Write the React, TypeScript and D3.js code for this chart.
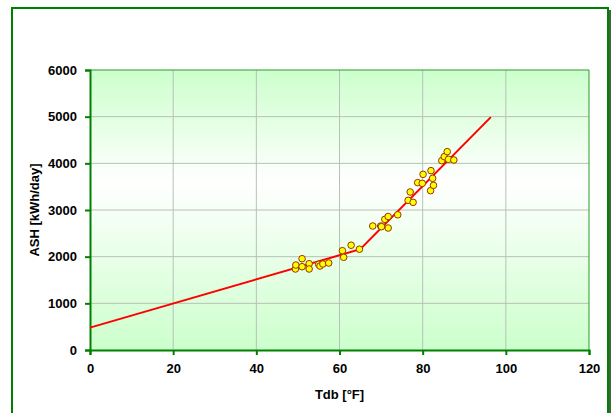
import { useEffect, useRef } from 'react';
import * as d3 from 'd3';

const xTicks = [0, 20, 40, 60, 80, 100, 120];
const yTicks = [0, 1000, 2000, 3000, 4000, 5000, 6000];

// measured points: Tdb [°F] vs ASH [kWh/day]
const tdb = [
  49.4, 49.5, 51.0, 51.0, 52.7, 52.7, 55.0, 55.3, 56.0, 57.4,
  60.7, 61.0, 62.8, 64.8, 68.0, 69.9, 70.1, 70.9, 71.7, 71.7,
  74.0, 76.5, 77.0, 77.7, 78.8, 79.9, 80.1, 81.9, 82.0, 82.4,
  82.6, 84.6, 85.2, 85.9, 86.2, 87.5,
];
const ash = [
  1736, 1821, 1956, 1785, 1849, 1736, 1836, 1800, 1843, 1864,
  2128, 1986, 2245, 2160, 2657, 2657, 2643, 2800, 2860, 2614,
  2897, 3207, 3386, 3164, 3586, 3571, 3764, 3414, 3843, 3679,
  3529, 4057, 4143, 4250, 4086, 4071,
];

// fitted model (piecewise linear)
const fitX = [0, 65, 96.4];
const fitY = [480, 2160, 4990];

export default function App() {
  const svgRef = useRef<SVGSVGElement>(null);

  useEffect(() => {
    if (!svgRef.current) return;
    const svg = d3.select(svgRef.current);
    svg.selectAll('*').remove();

    const width = 613;
    const height = 413;
    const margin = { top: 70, right: 24, bottom: 63, left: 90 };
    const font = 'Liberation Sans, Arial, sans-serif';

    const x = d3.scaleLinear().domain([0, 120]).range([margin.left, width - margin.right]);
    const y = d3.scaleLinear().domain([0, 6000]).range([height - margin.bottom, margin.top]);

    svg.append('rect').attr('width', width).attr('height', height).attr('fill', '#ffffff');

    // outer chart border
    svg.append('rect')
      .attr('x', 12).attr('y', 8)
      .attr('width', 596).attr('height', 420)
      .attr('fill', 'none')
      .attr('stroke', '#008000')
      .attr('stroke-width', 2);
    svg.append('line')
      .attr('x1', 610).attr('x2', 610)
      .attr('y1', 10).attr('y2', height)
      .attr('stroke', '#003300')
      .attr('stroke-width', 1.5);

    const grad = svg.append('defs').append('linearGradient')
      .attr('id', 'plotBg')
      .attr('x1', 0).attr('y1', 0).attr('x2', 0).attr('y2', 1);
    grad.append('stop').attr('offset', '0%').attr('stop-color', '#ccffcc');
    grad.append('stop').attr('offset', '40%').attr('stop-color', '#ffffff');
    grad.append('stop').attr('offset', '100%').attr('stop-color', '#ccffcc');

    const [x0, x1] = x.range();
    const [yb, yt] = y.range();

    svg.append('rect')
      .attr('x', x0).attr('y', yt)
      .attr('width', x1 - x0).attr('height', yb - yt)
      .attr('fill', 'url(#plotBg)');

    // gridlines
    svg.append('g')
      .selectAll('line')
      .data(xTicks.slice(1, -1))
      .join('line')
      .attr('x1', d => x(d)).attr('x2', d => x(d))
      .attr('y1', yt).attr('y2', yb)
      .attr('stroke', '#b8c0b8')
      .attr('stroke-width', 1);
    svg.append('g')
      .selectAll('line')
      .data(yTicks.slice(1, -1))
      .join('line')
      .attr('x1', x0).attr('x2', x1)
      .attr('y1', d => y(d)).attr('y2', d => y(d))
      .attr('stroke', '#b8c0b8')
      .attr('stroke-width', 1);

    // plot frame top/right
    svg.append('path')
      .attr('d', `M${x0},${yt}H${x1}V${yb}`)
      .attr('fill', 'none')
      .attr('stroke', '#2a9a2a')
      .attr('stroke-width', 1);

    // axes
    const fmt = d3.format('d');
    const xAxis = svg.append('g')
      .attr('transform', `translate(0,${yb})`)
      .call(d3.axisBottom(x).tickValues(xTicks).tickFormat(fmt).tickSize(5).tickPadding(9));
    const yAxis = svg.append('g')
      .attr('transform', `translate(${x0},0)`)
      .call(d3.axisLeft(y).tickValues(yTicks).tickFormat(fmt).tickSize(5).tickPadding(8));
    [xAxis, yAxis].forEach(g => {
      g.select('.domain').attr('stroke', '#008000').attr('stroke-width', 2);
      g.selectAll('.tick line').attr('stroke', '#008000').attr('stroke-width', 2);
      g.selectAll('.tick text')
        .attr('fill', '#000')
        .attr('font-family', font)
        .attr('font-size', 13)
        .attr('font-weight', 'bold');
    });

    // fit line
    const fit = fitX.map((v, i) => [v, fitY[i]] as [number, number]);
    svg.append('path')
      .datum(fit)
      .attr('d', d3.line<[number, number]>().x(d => x(d[0])).y(d => y(d[1])))
      .attr('fill', 'none')
      .attr('stroke', '#ff0000')
      .attr('stroke-width', 2);

    // measured points
    svg.append('g')
      .selectAll('circle')
      .data(tdb.map((v, i) => [v, ash[i]]))
      .join('circle')
      .attr('cx', d => x(d[0]))
      .attr('cy', d => y(d[1]))
      .attr('r', 3.3)
      .attr('fill', '#ffff00')
      .attr('stroke', '#993300')
      .attr('stroke-width', 1);

    // axis titles
    svg.append('text')
      .attr('x', (x0 + x1) / 2)
      .attr('y', 399)
      .attr('text-anchor', 'middle')
      .attr('font-family', font)
      .attr('font-size', 13)
      .attr('font-weight', 'bold')
      .text('Tdb [°F]');
    svg.append('text')
      .attr('transform', `translate(39,${(yt + yb) / 2}) rotate(-90)`)
      .attr('text-anchor', 'middle')
      .attr('font-family', font)
      .attr('font-size', 13)
      .attr('font-weight', 'bold')
      .text('ASH [kWh/day]');
  }, []);

  return (
    <svg
      ref={svgRef}
      width={613}
      height={413}
      style={{ position: 'absolute', left: 0, top: 0 }}
    ></svg>
  );
}
